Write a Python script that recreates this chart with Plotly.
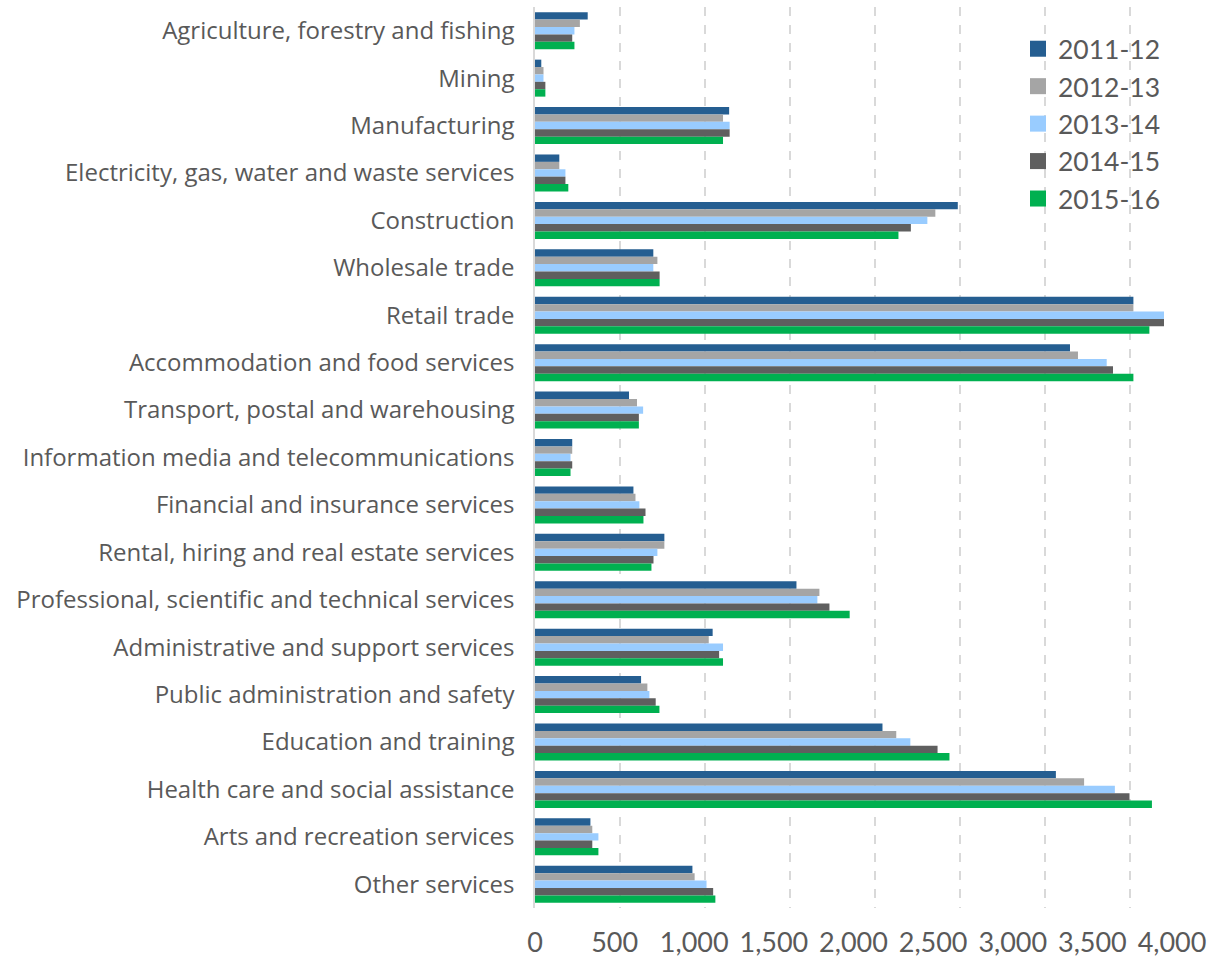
import plotly.graph_objects as go

categories = [
    "Agriculture, forestry and fishing",
    "Mining",
    "Manufacturing",
    "Electricity, gas, water and waste services",
    "Construction",
    "Wholesale trade",
    "Retail trade",
    "Accommodation and food services",
    "Transport, postal and warehousing",
    "Information media and telecommunications",
    "Financial and insurance services",
    "Rental, hiring and real estate services",
    "Professional, scientific and technical services",
    "Administrative and support services",
    "Public administration and safety",
    "Education and training",
    "Health care and social assistance",
    "Arts and recreation services",
    "Other services",
]

series_names = ["2011-12", "2012-13", "2013-14", "2014-15", "2015-16"]

v_2011_12 = [310, 37, 1142, 143, 2487, 696, 3520, 3147, 553, 219, 579, 761, 1538, 1045, 624, 2044, 3064, 326, 926]
v_2012_13 = [264, 50, 1106, 143, 2355, 720, 3520, 3194, 600, 219, 591, 761, 1673, 1022, 661, 2125, 3230, 337, 939]
v_2013_14 = [232, 50, 1145, 179, 2308, 696, 3700, 3363, 636, 209, 614, 720, 1661, 1106, 673, 2208, 3411, 373, 1009]
v_2014_15 = [219, 61, 1145, 179, 2211, 733, 3700, 3400, 611, 219, 650, 697, 1732, 1083, 710, 2368, 3497, 337, 1048]
v_2015_16 = [232, 61, 1106, 196, 2138, 733, 3614, 3520, 611, 209, 638, 685, 1851, 1106, 732, 2438, 3629, 373, 1061]

x_tick_values = [0, 500, 1000, 1500, 2000, 2500, 3000, 3500, 4000]
x_tick_labels = ["0", "500", "1,000", "1,500", "2,000", "2,500", "3,000", "3,500", "4,000"]

colors = ["#255E91", "#A5A5A5", "#99CCFF", "#5F5F5F", "#00B050"]
all_values = [v_2011_12, v_2012_13, v_2013_14, v_2014_15, v_2015_16]

FONT = "Open Sans"
TEXT_COLOR = "#595959"

fig = go.Figure()
for name, vals, col in zip(series_names, all_values, colors):
    fig.add_trace(go.Bar(
        y=categories, x=vals, name=name, orientation="h",
        marker=dict(color=col, line=dict(width=0)),
        showlegend=False, xaxis="x", yaxis="y",
    ))
# legend entries (square markers)
for name, col in zip(series_names, colors):
    fig.add_trace(go.Scatter(
        x=[None], y=[None], mode="markers", name=name,
        marker=dict(symbol="square", size=16, color=col),
        xaxis="x2", yaxis="y", showlegend=True,
    ))

fig.update_layout(
    width=1215, height=959,
    margin=dict(l=535, r=0, t=7, b=51, autoexpand=False),
    paper_bgcolor="white", plot_bgcolor="rgba(0,0,0,0)",
    barmode="group", bargap=0.22, bargroupgap=0,
    font=dict(family=FONT, color=TEXT_COLOR),
    xaxis=dict(
        range=[0, 4000], tickvals=x_tick_values, showticklabels=False,
        showgrid=True, gridcolor="#D9D9D9", griddash="dash", gridwidth=1.5,
        zeroline=False, showline=False, ticks="",
    ),
    xaxis2=dict(
        range=[0, 4000], domain=[0, 0.9368], anchor="y",
        tickvals=x_tick_values, ticktext=x_tick_labels, tickangle=0,
        showgrid=False, zeroline=False, showline=False, ticks="",
        tickfont=dict(family="Lato", size=27, color=TEXT_COLOR),
        ticklabelstandoff=16,
    ),
    yaxis=dict(
        categoryorder="array", categoryarray=categories, autorange="reversed",
        showgrid=False, zeroline=False,
        showline=True, linecolor="#D9D9D9", linewidth=1.5,
        ticks="", tickfont=dict(family=FONT, size=24, color=TEXT_COLOR),
        ticklabelstandoff=14,
    ),
    legend=dict(
        xref="paper", yref="paper",
        x=(1018 - 535) / 680, y=1 - (25 - 7) / 901, xanchor="left", yanchor="top",
        font=dict(family="Lato", size=26.5, color=TEXT_COLOR),
        bgcolor="rgba(0,0,0,0)", borderwidth=0,
    ),
)

fig.write_html("out.html", config={"displayModeBar": False},
               post_script="document.body.style.margin='0';")
